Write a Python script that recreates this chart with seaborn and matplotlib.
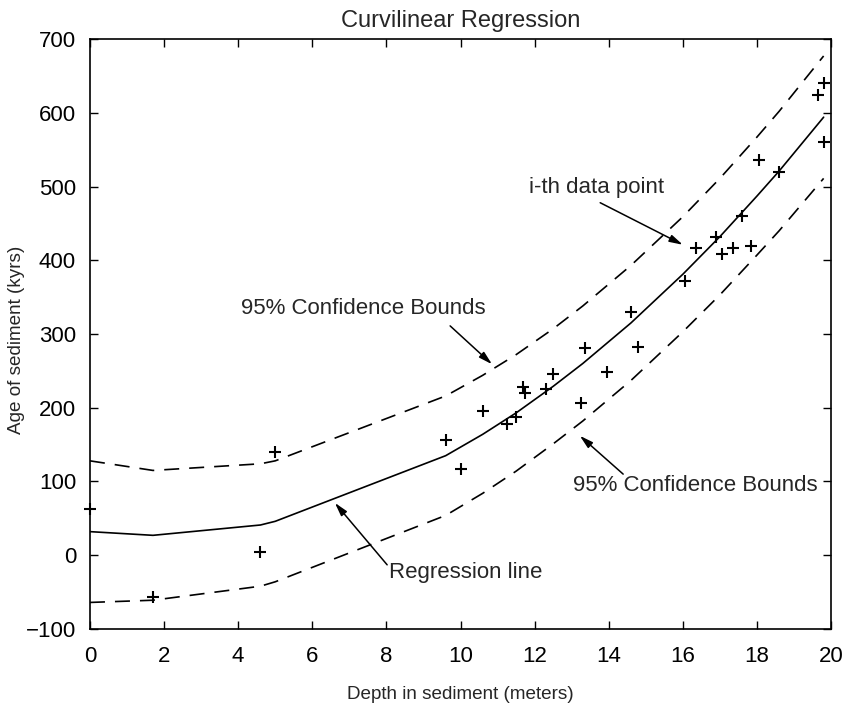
import numpy as np
import pandas as pd
import matplotlib
matplotlib.use("Agg")
import matplotlib.pyplot as plt
import seaborn as sns

# data points
depth = [0.0, 1.7, 4.6, 5.0, 9.6, 10.0, 10.6, 11.25, 11.5, 11.7, 11.75, 12.3, 12.5,
         13.25, 13.35, 13.95, 14.6, 14.8, 16.05, 16.35, 16.9, 17.05, 17.35, 17.6,
         17.85, 18.05, 18.6, 19.65, 19.8, 19.8]
age = [63, -56, 5, 140, 156, 117, 196, 178, 187, 228, 220, 225, 246,
       206, 281, 248, 330, 282, 372, 416, 431, 408, 416, 460,
       419, 536, 520, 624, 640, 560]

# regression line and 95% bounds
fit_x = [0, 1.7, 4.6, 5.0, 9.6, 10.6, 11.5, 12.5, 13.3, 14.6, 16.0, 17.0, 18.0, 18.6, 19.8]
fit_y = [32, 27, 41, 46, 135, 164, 193, 229, 260, 315, 381, 432, 487, 521, 594]
upper = [128, 115, 124, 128, 216, 244, 272, 307, 338, 393, 459, 511, 567, 602, 677]
lower = [-64, -61, -42, -36, 54, 84, 114, 151, 182, 237, 303, 353, 407, 440, 511]

pts = pd.DataFrame({"depth": depth, "age": age})
lines = pd.DataFrame({"x": fit_x, "fit": fit_y, "upper": upper, "lower": lower})

sns.set_style("ticks")
plt.rcParams['font.family'] = ['Liberation Sans', 'DejaVu Sans']

fig = plt.figure(figsize=(8.48, 7.08), dpi=100)
ax = fig.add_axes([0.1061, 0.1116, 0.8739, 0.8333])

sns.lineplot(data=lines, x="x", y="fit", ax=ax, color="black", lw=1.2,
             sort=False, estimator=None)
sns.lineplot(data=lines, x="x", y="upper", ax=ax, color="black", lw=1.2,
             sort=False, estimator=None)
sns.lineplot(data=lines, x="x", y="lower", ax=ax, color="black", lw=1.2,
             sort=False, estimator=None)
ax.lines[1].set_dashes((9, 6))
ax.lines[2].set_dashes((9, 6))

sns.scatterplot(data=pts, x="depth", y="age", ax=ax, marker="+", s=80,
                color="black", linewidth=1.5, zorder=3, clip_on=False)

ax.set_xlim(0, 20)
ax.set_ylim(-100, 700)
ax.set_xticks(np.arange(0, 21, 2))
ax.set_yticks(np.arange(-100, 701, 100))
ax.set_yticklabels(["\u2212100"] + [str(v) for v in range(0, 701, 100)])
ax.tick_params(direction="in", length=6, width=1, top=True, right=True,
               labelsize=16, colors="black")
ax.tick_params(axis="x", pad=12)
ax.tick_params(axis="y", pad=10)
for s in ax.spines.values():
    s.set_visible(True)
    s.set_linewidth(1.2)
    s.set_color("black")

ax.set_title("Curvilinear Regression", fontsize=17, pad=9)
ax.set_xlabel("Depth in sediment (meters)", fontsize=13.6, labelpad=14)
ax.set_ylabel("Age of sediment (kyrs)", fontsize=13.6)
ax.yaxis.set_label_coords(-0.088, 0.49)

arrow = dict(arrowstyle="-|>,head_width=0.22,head_length=0.8", color="black",
             lw=1.1, shrinkA=0, shrinkB=0)
ax.text(13.66, 498, "i-th data point", ha="center", va="center", fontsize=16)
ax.annotate("", xy=(16.0, 421), xytext=(13.77, 478), arrowprops=arrow)
ax.text(7.39, 335, "95% Confidence Bounds", ha="center", va="center", fontsize=16)
ax.annotate("", xy=(10.85, 259), xytext=(9.72, 311), arrowprops=arrow)
ax.text(16.33, 95, "95% Confidence Bounds", ha="center", va="center", fontsize=16)
ax.annotate("", xy=(13.22, 162), xytext=(14.39, 110), arrowprops=arrow)
ax.text(10.15, -24, "Regression line", ha="center", va="center", fontsize=16)
ax.annotate("", xy=(6.61, 71), xytext=(8.02, -13), arrowprops=arrow)

fig.savefig("out.png", dpi=100)
